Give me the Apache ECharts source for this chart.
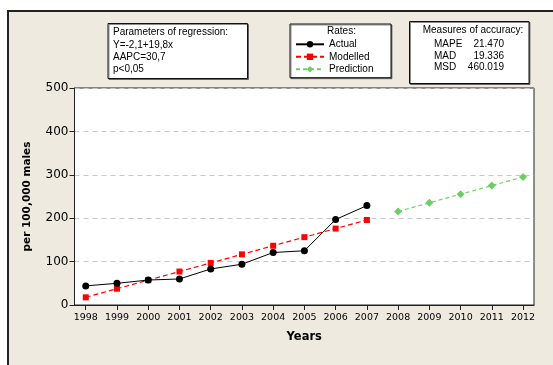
<!DOCTYPE html>
<html>
<head>
<meta charset="utf-8">
<script src="https://cdn.jsdelivr.net/npm/echarts@6/dist/echarts.min.js"></script>
<style>
  html, body { margin: 0; padding: 0; background: #fff; }
  #panel { position: absolute; left: 7px; top: 10px; width: 546px; height: 355px;
           background: #EEEAE0; border-left: 2px solid #222; border-top: 2px solid #222; box-sizing: border-box; }
  #chart { position: absolute; left: 0; top: 0; width: 553px; height: 365px; }
</style>
</head>
<body>
<div id="panel"></div>
<div id="chart"></div>
<script>
// Observed years and rates per 100,000 males
const years = [1998, 1999, 2000, 2001, 2002, 2003, 2004, 2005, 2006, 2007];
const actual = [44, 50, 57.5, 60, 83, 94, 121, 125, 197, 229];
const modelled = [17.7, 37.5, 57.3, 77.1, 96.9, 116.7, 136.5, 156.3, 176.1, 195.9];
// Forecast horizon
const forecastYears = [2008, 2009, 2010, 2011, 2012];
const prediction = [215.7, 235.5, 255.3, 275.1, 294.9];
// Axis ticks
const yearTicks = [1998, 1999, 2000, 2001, 2002, 2003, 2004, 2005, 2006, 2007, 2008, 2009, 2010, 2011, 2012];
const rateTicks = [0, 100, 200, 300, 400, 500];

const pairs = (xs, ys) => xs.map((x, i) => [x, ys[i]]);

const FONT = 'Liberation Sans';
const AXFONT = 'DejaVu Sans';

function boxText(x, y, text, align) {
  return {
    type: 'text', x: x, y: y, z: 10,
    style: { text: text, font: '10px "' + FONT + '"', fill: '#000', textAlign: align || 'left', textVerticalAlign: 'middle' }
  };
}
function box(x, y, w, h) {
  return {
    type: 'rect', z: 1,
    shape: { x: x, y: y, width: w, height: h },
    style: { fill: '#fff', stroke: '#111', lineWidth: 1, shadowColor: 'rgba(0,0,0,0.45)', shadowOffsetX: 1, shadowOffsetY: 1, shadowBlur: 0 }
  };
}

const chart = echarts.init(document.getElementById('chart'), null, { renderer: 'canvas' });
chart.setOption({
  backgroundColor: 'transparent',
  animation: false,
  grid: { left: 74.5, right: 19, top: 88, bottom: 60, show: true, backgroundColor: '#fff', borderColor: '#222', borderWidth: 1 },
  xAxis: {
    type: 'value', min: 1997.64, max: 2012.35,
    name: 'Years', nameLocation: 'middle', nameGap: 26,
    nameTextStyle: { fontFamily: AXFONT, fontWeight: 'bold', fontSize: 11.5, color: '#000' },
    axisLine: { lineStyle: { color: '#222', width: 1 } },
    axisTick: { show: true, length: 5, customValues: yearTicks, lineStyle: { color: '#222' } },
    axisLabel: { customValues: yearTicks, formatter: v => String(v), margin: 8, fontFamily: AXFONT, fontSize: 9.5, color: '#000' },
    splitLine: { show: false }
  },
  yAxis: {
    type: 'value', min: 0, max: 500, interval: 50,
    name: 'per 100,000 males', nameLocation: 'middle', nameGap: 41.5, nameRotate: 90,
    nameTextStyle: { fontFamily: AXFONT, fontWeight: 'bold', fontSize: 10.5, color: '#000' },
    axisLine: { show: true, lineStyle: { color: '#222', width: 1 } },
    axisTick: { show: true, length: 5, customValues: rateTicks, lineStyle: { color: '#222' } },
    axisLabel: { customValues: rateTicks, formatter: v => String(v), margin: 6, fontFamily: AXFONT, fontSize: 12, color: '#000' },
    splitLine: { show: true, lineStyle: { color: '#c8c8c8', type: [5, 4], width: 1 } }
  },
  legend: {
    orient: 'vertical', left: 295, top: 38.3, padding: 0,
    itemWidth: 28, itemHeight: 8, itemGap: 0.5,
    textStyle: { fontFamily: FONT, fontSize: 10, color: '#000', lineHeight: 12 },
    data: ['Actual', 'Modelled', 'Prediction'],
    z: 12
  },
  graphic: [
    box(108, 23.5, 139.5, 55),
    boxText(113, 32.5, 'Parameters of regression:'),
    boxText(113, 45, 'Y=-2,1+19,8x'),
    boxText(113, 57.5, 'AAPC=30,7'),
    boxText(113, 69.5, 'p<0,05'),
    box(290, 24, 101, 53.7),
    boxText(341.5, 31.7, 'Rates:', 'center'),
    box(409.5, 21.5, 119.5, 62),
    boxText(473, 30, 'Measures of accuracy:', 'center'),
    boxText(434, 44.5, 'MAPE'), boxText(504, 44.5, '21.470', 'right'),
    boxText(434, 56, 'MAD'), boxText(504, 56, '19.336', 'right'),
    boxText(434, 67.5, 'MSD'), boxText(504, 67.5, '460.019', 'right')
  ],
  series: [
    {
      name: 'Actual', type: 'line', data: pairs(years, actual),
      symbol: 'circle', symbolSize: 7,
      itemStyle: { color: '#000' }, lineStyle: { color: '#000', width: 1 }, z: 4
    },
    {
      name: 'Modelled', type: 'line', data: pairs(years, modelled),
      symbol: 'rect', symbolSize: 6,
      itemStyle: { color: '#ff0000' }, lineStyle: { color: '#ff0000', width: 1.2, type: [5, 3] }, z: 3
    },
    {
      name: 'Prediction', type: 'line', data: pairs(forecastYears, prediction),
      symbol: 'diamond', symbolSize: 8,
      itemStyle: { color: '#6dcf63' }, lineStyle: { color: '#6dcf63', width: 1.2, type: [4, 3] }, z: 3
    }
  ]
});
</script>
</body>
</html>
